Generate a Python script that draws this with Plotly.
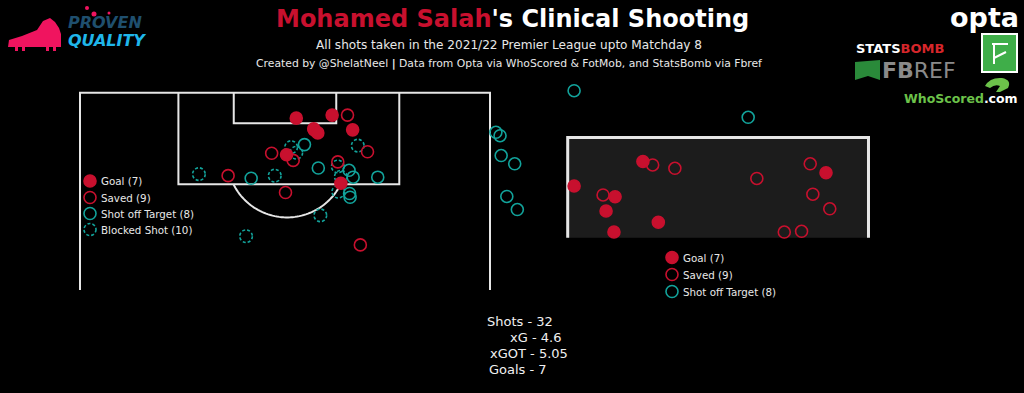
import numpy as np
import plotly.graph_objects as go

W, H = 1024, 393
RED = "#c8102e"
TEAL = "#12a39b"
LINE = "#e6e6e6"
FONT = "DejaVu Sans"

# ---------------- data ----------------
# Shot locations on a StatsBomb pitch (x = length toward goal at 120, y = across 0-80)
goal_x = [115.0, 115.6, 112.9, 112.1, 112.7, 107.8, 102.2]
goal_y = [42.2, 49.2, 45.6, 46.4, 53.2, 40.3, 50.9]
saved_x = [115.6, 108.1, 106.7, 106.4, 108.4, 100.4, 103.7, 90.1, 112.7]
saved_y = [52.2, 37.4, 41.6, 50.3, 56.1, 40.1, 28.9, 54.7, 45.7]
off_x = [109.8, 105.2, 104.75, 103.4, 103.4, 100.2, 99.45, 103.2]
off_y = [43.8, 46.5, 52.5, 53.3, 58.1, 52.6, 52.7, 33.4]
blocked_x = [109.3, 108.2, 109.6, 103.7, 105.5, 103.5, 100.55, 104.0, 95.9, 91.8]
blocked_y = [41.2, 42.2, 54.2, 38.0, 50.3, 50.9, 50.4, 23.2, 46.9, 32.4]

# End locations in the goal mouth (end_y across, end_z height)
goal_end_y = [38.0, 36.17, 37.26, 37.02, 38.41, 37.23, 42.87]
goal_end_z = [2.03, 1.38, 1.09, 0.71, 0.41, 0.15, 1.73]
saved_end_y = [38.26, 38.85, 36.94, 41.03, 42.45, 42.52, 42.97, 41.76, 42.22]
saved_end_z = [1.94, 1.85, 1.14, 1.58, 1.97, 1.16, 0.77, 0.15, 0.17]
off_end_y = [36.17, 40.80, 34.09, 34.20, 34.23, 34.59, 34.38, 34.66]
off_end_z = [3.92, 3.21, 2.81, 2.72, 2.19, 1.97, 1.10, 0.75]

stat_labels = ["Shots", "xG", "xGOT", "Goals"]
stat_values = ["32", "4.6", "5.05", "7"]

# ---------------- figure ----------------
fig = go.Figure()

MS = 12
LW = 1.6

# pitch shots (axis x/y: horizontal = y across, vertical = x length)
fig.add_trace(go.Scatter(x=saved_y, y=saved_x, mode="markers", xaxis="x", yaxis="y",
                         marker=dict(size=MS, color="rgba(0,0,0,0)", line=dict(color=RED, width=LW)),
                         hoverinfo="skip", showlegend=False))
fig.add_trace(go.Scatter(x=off_y, y=off_x, mode="markers", xaxis="x", yaxis="y",
                         marker=dict(size=MS, color="rgba(0,0,0,0)", line=dict(color=TEAL, width=LW)),
                         hoverinfo="skip", showlegend=False))
fig.add_trace(go.Scatter(x=goal_y, y=goal_x, mode="markers", xaxis="x", yaxis="y",
                         marker=dict(size=MS, color=RED, line=dict(color=RED, width=LW)),
                         hoverinfo="skip", showlegend=False))

# goal mouth shots
fig.add_trace(go.Scatter(x=saved_end_y, y=saved_end_z, mode="markers", xaxis="x2", yaxis="y2",
                         marker=dict(size=MS, color="rgba(0,0,0,0)", line=dict(color=RED, width=LW)),
                         hoverinfo="skip", showlegend=False, cliponaxis=False))
fig.add_trace(go.Scatter(x=off_end_y, y=off_end_z, mode="markers", xaxis="x2", yaxis="y2",
                         marker=dict(size=MS, color="rgba(0,0,0,0)", line=dict(color=TEAL, width=LW)),
                         hoverinfo="skip", showlegend=False, cliponaxis=False))
fig.add_trace(go.Scatter(x=goal_end_y, y=goal_end_z, mode="markers", xaxis="x2", yaxis="y2",
                         marker=dict(size=MS, color=RED, line=dict(color=RED, width=LW)),
                         hoverinfo="skip", showlegend=False, cliponaxis=False))

shapes = []
# pitch lines
bottom = 81.24
pl = dict(color=LINE, width=2)
shapes.append(dict(type="path", xref="x", yref="y", layer="below", line=pl,
                   path=f"M 0,{bottom} L 0,120 L 80,120 L 80,{bottom}"))
shapes.append(dict(type="path", xref="x", yref="y", layer="below", line=pl,
                   path="M 19.2,120 L 19.2,102 L 62.3,102 L 62.3,120"))
shapes.append(dict(type="path", xref="x", yref="y", layer="below", line=pl,
                   path="M 30,120 L 30,114 L 50,114 L 50,120"))
cx, cy, r = 40.4, 107.15, 11.65
a0 = np.arcsin((cy - 102) / r)
ang = np.linspace(np.pi + a0, 2 * np.pi - a0, 60)
arc = " L ".join(f"{cx + r*np.cos(t):.3f},{cy + r*np.sin(t):.3f}" for t in ang)
shapes.append(dict(type="path", xref="x", yref="y", layer="below", line=pl, path="M " + arc))

# blocked shots: dashed circles
for bx, by in zip(blocked_y, blocked_x):
    shapes.append(dict(type="circle", xref="x", yref="y", layer="below",
                       xsizemode="pixel", ysizemode="pixel", xanchor=bx, yanchor=by,
                       x0=-6.3, x1=6.3, y0=-6.3, y1=6.3,
                       line=dict(color=TEAL, width=LW, dash="3px,2px")))

# goal frame
shapes.append(dict(type="rect", xref="x2", yref="y2", layer="below", x0=36, x1=44, y0=0, y1=2.67,
                   fillcolor="#1c1c1c", line=dict(width=0)))
shapes.append(dict(type="path", xref="x2", yref="y2", layer="below",
                   line=dict(color=LINE, width=3), path="M 36,0 L 36,2.67 L 44,2.67 L 44,0"))

annotations = []

def txt(x, y, text, size=11, color="#e8e8e8", xanchor="left", bold=False, family=FONT, italic=False):
    if bold:
        text = f"<b>{text}</b>"
    if italic:
        text = f"<i>{text}</i>"
    annotations.append(dict(x=x, y=y, xref="x3", yref="y3", text=text, showarrow=False,
                            xanchor=xanchor, yanchor="middle",
                            font=dict(size=size, color=color, family=family)))

# legends
leg1 = [("Goal", len(goal_x), "goal"), ("Saved", len(saved_x), "saved"),
        ("Shot off Target", len(off_x), "off"), ("Blocked Shot", len(blocked_x), "blocked")]
leg_y1 = [181, 197.5, 213.5, 229.5]
leg2 = leg1[:3]
leg_y2 = [257.5, 274.5, 291.5]

def leg_marker(x, y, kind):
    if kind == "blocked":
        shapes.append(dict(type="circle", xref="x3", yref="y3",
                           xsizemode="pixel", ysizemode="pixel", xanchor=x, yanchor=y,
                           x0=-6, x1=6, y0=-6, y1=6,
                           line=dict(color=TEAL, width=LW, dash="3px,2px")))
        return
    col = RED if kind in ("goal", "saved") else TEAL
    fill = RED if kind == "goal" else "rgba(0,0,0,0)"
    fig.add_trace(go.Scatter(x=[x], y=[y], mode="markers", xaxis="x3", yaxis="y3",
                             marker=dict(size=MS, color=fill, line=dict(color=col, width=LW)),
                             hoverinfo="skip", showlegend=False))

for (lab, n, kind), yy in zip(leg1, leg_y1):
    leg_marker(90, yy, kind)
    txt(99, yy, f"{lab} ({n})", size=10.3)
for (lab, n, kind), yy in zip(leg2, leg_y2):
    leg_marker(672, yy, kind)
    txt(681, yy, f"{lab} ({n})", size=10.3)

# stats
stat_x = [485, 507.5, 487.5, 486.5]
stat_yy = [321, 337, 353, 369]
for lab, val, sx, sy in zip(stat_labels, stat_values, stat_x, stat_yy):
    txt(sx, sy, f"{lab} - {val}", size=13, color="#f0f0f0")

# titles
txt(512, 19, f"<span style='color:{RED}'>Mohamed Salah</span>'s Clinical Shooting",
    size=24, color="#ffffff", xanchor="center", bold=True)
txt(509, 45, "All shots taken in the 2021/22 Premier League upto Matchday 8",
    size=12.1, color="#e8e8e8", xanchor="center")
txt(509, 63.5, "Created by @ShelatNeel <b>|</b> Data from Opta via WhoScored &amp; FotMob, and StatsBomb via Fbref",
    size=10.8, color="#e8e8e8", xanchor="center")

# ---- logo approximations ----
PINK = "#f0145f"
shapes.append(dict(type="path", xref="x3", yref="y3", fillcolor=PINK, line=dict(width=0),
                   path="M 8,47 L 9,40 L 22,36 L 37,30 L 43,21 L 50,18 L 55,22 L 59,28 L 61,34 L 61,47 Z"))
for sx in [15, 22, 46, 53]:
    shapes.append(dict(type="rect", xref="x3", yref="y3", fillcolor=PINK, line=dict(width=0),
                       x0=sx, x1=sx + 3, y0=47, y1=51))
for (dx, dy, rr) in [(87, 8, 2), (94, 14, 2.5), (109, 13, 1.5)]:
    shapes.append(dict(type="circle", xref="x3", yref="y3", fillcolor=PINK, line=dict(width=0),
                       x0=dx - rr, x1=dx + rr, y0=dy - rr, y1=dy + rr))
txt(66, 22.5, "PROVEN", size=16, color="#1f4f6e", bold=True, italic=True)
txt(66, 40.5, "QUALITY", size=16, color="#1fb6ea", bold=True, italic=True)

txt(1021, 17, "opta", size=27, color="#ffffff", xanchor="right", bold=True)
txt(854, 48, "STATS<span style='color:#d7262b'>BOMB</span>", size=13, color="#ffffff", bold=True)
shapes.append(dict(type="path", xref="x3", yref="y3", fillcolor="#2a8a3a", line=dict(width=0),
                   path="M 855,62 L 880,60 L 880,80 L 868,76 L 855,80 Z"))
txt(880, 70, "FB<span style='font-weight:normal'>REF</span>", size=22, color="#8a8a8a", bold=True)
shapes.append(dict(type="rect", xref="x3", yref="y3", fillcolor="#3fae49",
                   line=dict(color="#ffffff", width=2), x0=982, x1=1017, y0=34, y1=72))
shapes.append(dict(type="path", xref="x3", yref="y3", line=dict(color="#ffffff", width=2),
                   path="M 992,44 L 1008,44 M 994,44 L 994,64 M 994,58 L 1006,52"))
shapes.append(dict(type="path", xref="x3", yref="y3", fillcolor="#6cc24a", line=dict(width=0),
                   path="M 985,86 Q 990,77 1002,78 Q 1012,80 1008,88 L 1000,92 L 996,92 L 1000,86 Q 995,84 990,88 Z"))
txt(1020, 98, "<span style='color:#6cc24a'>WhoScored</span>.com", size=12.5, color="#ffffff",
    xanchor="right", bold=True)

fig.update_layout(
    width=W, height=H, margin=dict(l=0, r=0, t=0, b=0),
    paper_bgcolor="black", plot_bgcolor="rgba(0,0,0,0)",
    showlegend=False,
    xaxis=dict(domain=[60 / W, 520 / W], range=[-3.902, 85.854], visible=False, fixedrange=True),
    yaxis=dict(domain=[1 - 300 / H, 1 - 85 / H], range=[79.27, 121.51], visible=False, fixedrange=True),
    xaxis2=dict(domain=[480 / W, 900 / W], range=[33.667, 44.838], visible=False, fixedrange=True),
    yaxis2=dict(domain=[1 - 245 / H, 1 - 80 / H], range=[-0.195, 4.205], visible=False, fixedrange=True),
    xaxis3=dict(domain=[0, 1], range=[0, W], visible=False, fixedrange=True),
    yaxis3=dict(domain=[0, 1], range=[H, 0], visible=False, fixedrange=True),
    shapes=shapes, annotations=annotations,
)

fig.write_html("out.html", config={"displayModeBar": False},
               post_script="document.body.style.margin='0';document.body.style.background='black';")
